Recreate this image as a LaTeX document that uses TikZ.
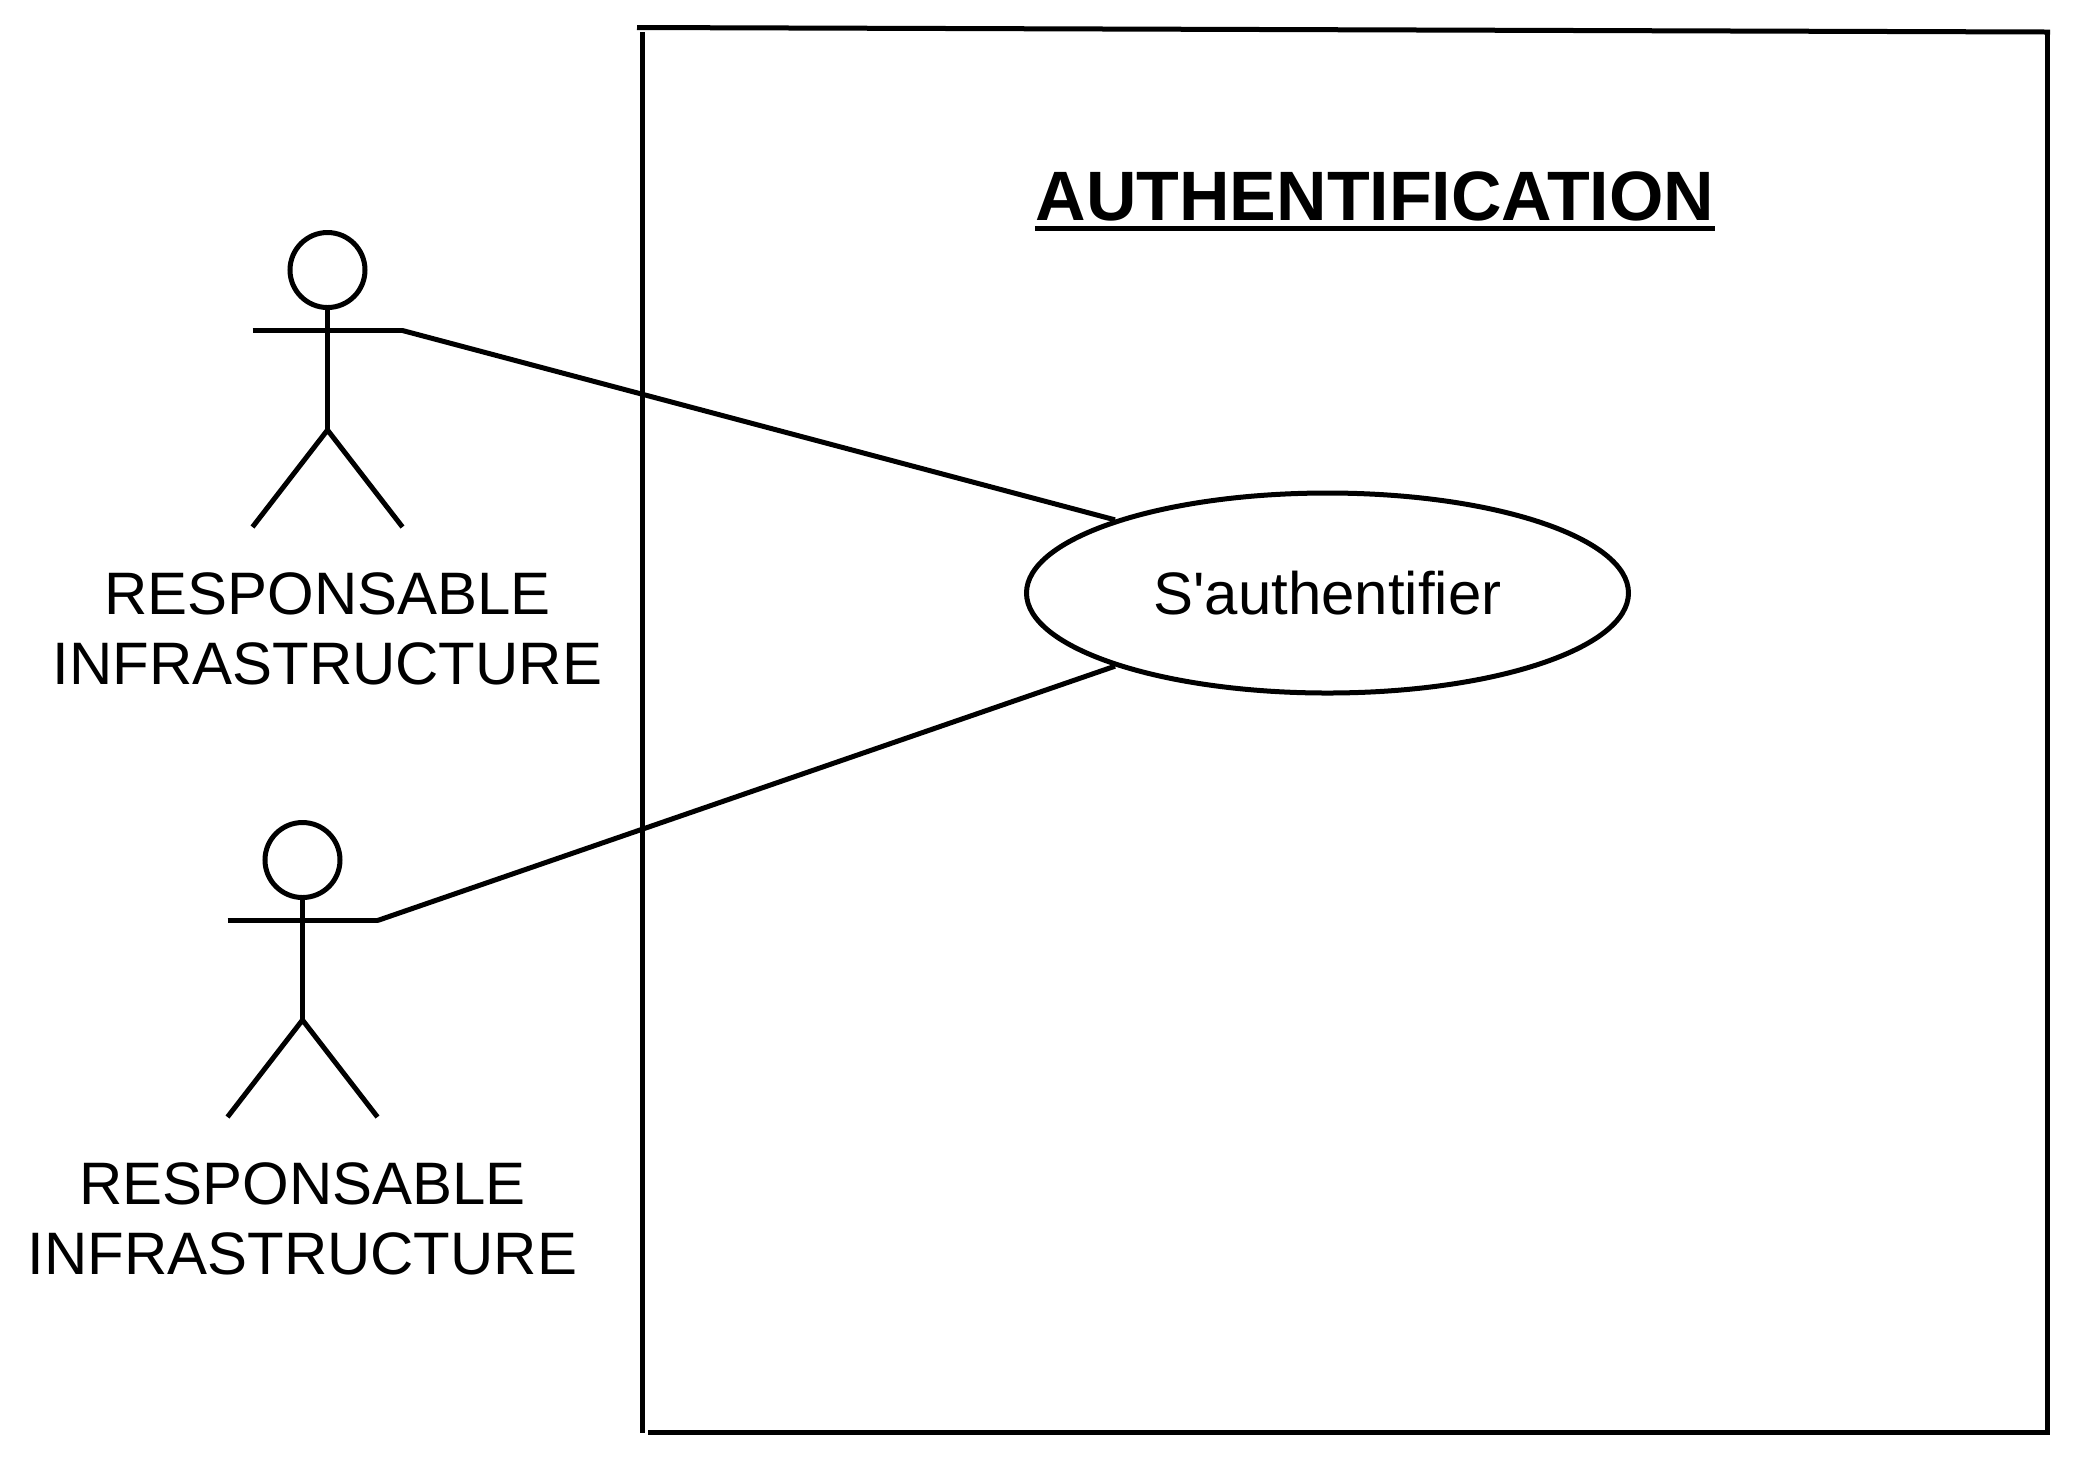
\documentclass[tikz,border=0pt]{standalone}
\usepackage{fontspec}
\usetikzlibrary{shapes.geometric}
\setmainfont{Liberation Sans}

\tikzset{
  stick/.style={line width=.05cm},
  frame/.style={line width=.05cm},
  assoc/.style={line width=.05cm},
  actorlabel/.style={align=center, inner sep=0pt, font=\fontsize{17.05}{19.9}\selectfont},
  usecase/.style={ellipse, draw, fill=white, line width=.05cm, inner sep=0pt,
    minimum width=6.02cm, minimum height=2cm, font=\fontsize{17.05}{20}\selectfont},
}

\begin{document}
\begin{tikzpicture}
      \useasboundingbox (0, 0) rectangle (20.8, -14.65);
      \draw[frame] (6.37, -.275) -- (20.5, -.32);
      \draw[frame] (6.425, -.32) -- (6.425, -14.325);
      \draw[frame] (6.48, -14.325) -- (20.5, -14.325);
      \draw[frame] (20.475, -.32) -- (20.475, -14.325);
      \node[inner sep=0pt, anchor=base, font=\fontsize{19.9}{22}\selectfont\bfseries] (title) at (13.75, -2.2) {AUTHENTIFICATION};
      \draw[line width=.05cm] ([yshift=-.085cm]title.base west) -- ([yshift=-.085cm]title.base east);
      \node[usecase] (auth) at (13.275, -5.93) {S\textquotesingle authentif{}ier};
      \foreach \nm/\ax/\ay in {top/3.275/-2.7, bottom/3.025/-8.6} {
        \draw[stick] (\ax, \ay) circle[radius=.375];
        \draw[stick] (\ax, \ay-.375) -- (\ax, \ay-1.6);
        \draw[stick] (\ax-.75, \ay-.605) -- (\ax+.75, \ay-.605);
        \draw[stick] (\ax-.75, \ay-2.57) -- (\ax, \ay-1.6) -- (\ax+.75, \ay-2.57);
        \coordinate (hand\nm) at (\ax+.75, \ay-.605);
        \node[actorlabel, anchor=base] (label\nm) at (\ax, \ay-4.14) {RESPONSABLE\\INFRASTRUCTURE};
      }
      \draw[assoc] (handtop) -- (auth.161);
      \draw[assoc] (handbottom) -- (auth.199);
    \end{tikzpicture}
\end{document}
